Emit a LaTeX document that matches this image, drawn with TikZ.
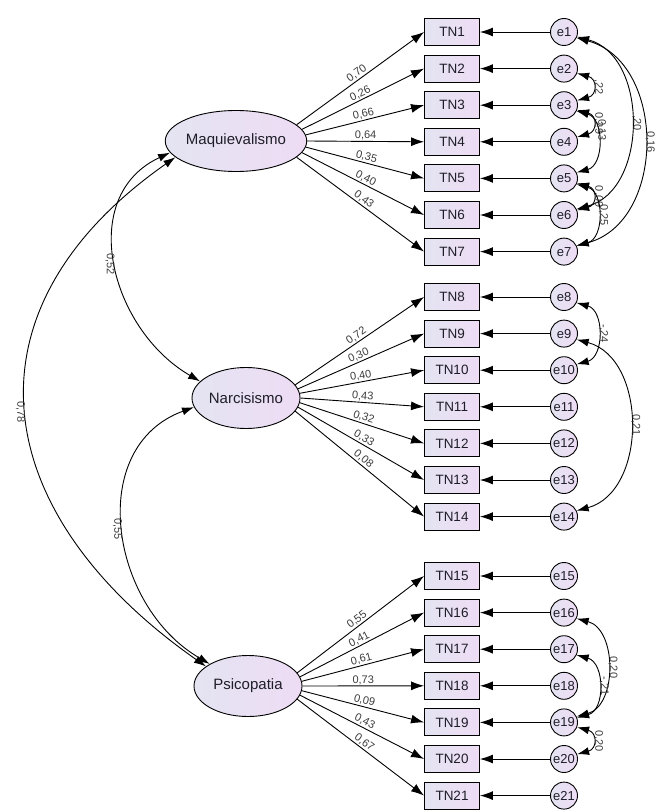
\documentclass[tikz,border=0pt]{standalone}
\usepackage{fontspec}
\setmainfont{Liberation Sans}
\usetikzlibrary{shapes.geometric,arrows.meta,positioning}
\definecolor{shadeL}{RGB}{228,228,242}
\definecolor{shadeR}{RGB}{238,220,244}
\definecolor{inkC}{RGB}{30,30,40}
\definecolor{lblC}{RGB}{60,60,60}
\begin{document}
\begin{tikzpicture}[x=1pt, y=-1pt, node distance=36.6pt, line width=0.9pt,
  fac/.style = {draw, ellipse, minimum width=108pt, minimum height=61pt, inner sep=0pt, left color=shadeL, right color=shadeR, text=inkC, font=\fontsize{15}{16}\selectfont},
  item/.style = {draw, rectangle, minimum width=55pt, minimum height=27pt, inner sep=0pt, left color=shadeL, right color=shadeR, text=inkC, font=\fontsize{13.5}{14}\selectfont},
  err/.style = {draw, circle, minimum size=27pt, inner sep=0pt, left color=shadeL, right color=shadeR, text=inkC, font=\fontsize{13}{14}\selectfont},
  load/.style = {-{Latex[length=13pt,width=9pt]}},
  cov/.style = {{Latex[length=12pt,width=8pt]}-{Latex[length=12pt,width=8pt]}},
  lbl/.style = {text=lblC, font=\fontsize{11}{11}\selectfont, inner sep=1pt},
  vlbl/.style = {lbl, rotate=-90, anchor=south},
  rarc/.style = {out=-15, in=15, looseness=#1}, rarc/.default=1]
\useasboundingbox (0,0) rectangle (658,810);
% latent factors
\node[fac] (maq) at (236,141) {Maquievalismo};
\node[fac] (nar) at (246,398) {Narcisismo};
\node[fac] (psi) at (248,686) {Psicopatia};
% items
\node[item] (tn1) at (452,32) {TN1};
\node[item] (tn2) [below of=tn1] {TN2};
\node[item] (tn3) [below of=tn2] {TN3};
\node[item] (tn4) [below of=tn3] {TN4};
\node[item] (tn5) [below of=tn4] {TN5};
\node[item] (tn6) [below of=tn5] {TN6};
\node[item] (tn7) [below of=tn6] {TN7};
\node[item] (tn8) at (452,297) {TN8};
\node[item] (tn9) [below of=tn8] {TN9};
\node[item] (tn10) [below of=tn9] {TN10};
\node[item] (tn11) [below of=tn10] {TN11};
\node[item] (tn12) [below of=tn11] {TN12};
\node[item] (tn13) [below of=tn12] {TN13};
\node[item] (tn14) [below of=tn13] {TN14};
\node[item] (tn15) at (452,576) {TN15};
\node[item] (tn16) [below of=tn15] {TN16};
\node[item] (tn17) [below of=tn16] {TN17};
\node[item] (tn18) [below of=tn17] {TN18};
\node[item] (tn19) [below of=tn18] {TN19};
\node[item] (tn20) [below of=tn19] {TN20};
\node[item] (tn21) [below of=tn20] {TN21};
% errors
\node[err] (e1) at (564,32) {e1};
\node[err] (e2) [below of=e1] {e2};
\node[err] (e3) [below of=e2] {e3};
\node[err] (e4) [below of=e3] {e4};
\node[err] (e5) [below of=e4] {e5};
\node[err] (e6) [below of=e5] {e6};
\node[err] (e7) [below of=e6] {e7};
\node[err] (e8) at (564,297) {e8};
\node[err] (e9) [below of=e8] {e9};
\node[err] (e10) [below of=e9] {e10};
\node[err] (e11) [below of=e10] {e11};
\node[err] (e12) [below of=e11] {e12};
\node[err] (e13) [below of=e12] {e13};
\node[err] (e14) [below of=e13] {e14};
\node[err] (e15) at (564,576) {e15};
\node[err] (e16) [below of=e15] {e16};
\node[err] (e17) [below of=e16] {e17};
\node[err] (e18) [below of=e17] {e18};
\node[err] (e19) [below of=e18] {e19};
\node[err] (e20) [below of=e19] {e20};
\node[err] (e21) [below of=e20] {e21};
% loadings
\draw[load] (maq.15) -- (tn1.west) node[lbl, pos=0.5, above, sloped] {0,70};
\draw[load] (maq.10) -- (tn2.west) node[lbl, pos=0.5, above, sloped] {0,26};
\draw[load] (maq.5) -- (tn3.west) node[lbl, pos=0.5, above, sloped] {0,66};
\draw[load] (maq.0) -- (tn4.west) node[lbl, pos=0.5, above, sloped] {0,64};
\draw[load] (maq.-5) -- (tn5.west) node[lbl, pos=0.5, above, sloped] {0,35};
\draw[load] (maq.-10) -- (tn6.west) node[lbl, pos=0.5, above, sloped] {0,40};
\draw[load] (maq.-15) -- (tn7.west) node[lbl, pos=0.5, above, sloped] {0,43};
\draw[load] (nar.15) -- (tn8.west) node[lbl, pos=0.5, above, sloped] {0,72};
\draw[load] (nar.10) -- (tn9.west) node[lbl, pos=0.5, above, sloped] {0,30};
\draw[load] (nar.5) -- (tn10.west) node[lbl, pos=0.5, above, sloped] {0,40};
\draw[load] (nar.0) -- (tn11.west) node[lbl, pos=0.5, above, sloped] {0,43};
\draw[load] (nar.-5) -- (tn12.west) node[lbl, pos=0.5, above, sloped] {0,32};
\draw[load] (nar.-10) -- (tn13.west) node[lbl, pos=0.5, above, sloped] {0,33};
\draw[load] (nar.-15) -- (tn14.west) node[lbl, pos=0.5, above, sloped] {0,08};
\draw[load] (psi.15) -- (tn15.west) node[lbl, pos=0.5, above, sloped] {0,55};
\draw[load] (psi.10) -- (tn16.west) node[lbl, pos=0.5, above, sloped] {0,41};
\draw[load] (psi.5) -- (tn17.west) node[lbl, pos=0.5, above, sloped] {0,61};
\draw[load] (psi.0) -- (tn18.west) node[lbl, pos=0.5, above, sloped] {0,73};
\draw[load] (psi.-5) -- (tn19.west) node[lbl, pos=0.5, above, sloped] {0,09};
\draw[load] (psi.-10) -- (tn20.west) node[lbl, pos=0.5, above, sloped] {0,43};
\draw[load] (psi.-15) -- (tn21.west) node[lbl, pos=0.5, above, sloped] {0,67};
% error terms
\draw[load] (e1) -- (tn1);
\draw[load] (e2) -- (tn2);
\draw[load] (e3) -- (tn3);
\draw[load] (e4) -- (tn4);
\draw[load] (e5) -- (tn5);
\draw[load] (e6) -- (tn6);
\draw[load] (e7) -- (tn7);
\draw[load] (e8) -- (tn8);
\draw[load] (e9) -- (tn9);
\draw[load] (e10) -- (tn10);
\draw[load] (e11) -- (tn11);
\draw[load] (e12) -- (tn12);
\draw[load] (e13) -- (tn13);
\draw[load] (e14) -- (tn14);
\draw[load] (e15) -- (tn15);
\draw[load] (e16) -- (tn16);
\draw[load] (e17) -- (tn17);
\draw[load] (e18) -- (tn18);
\draw[load] (e19) -- (tn19);
\draw[load] (e20) -- (tn20);
\draw[load] (e21) -- (tn21);
% factor covariances
\draw[cov] (maq.190) to[out=205, in=150, looseness=1.15] node[vlbl, anchor=north] {0,52} (nar.160);
\draw[cov] (nar.190) to[out=200, in=150, looseness=1.15] node[vlbl, anchor=north] {0,55} (psi.150);
\draw[cov] (maq.195) to[out=215, in=145, looseness=1.34] node[vlbl, anchor=north] {0,78} (psi.155);
% error covariances
\draw[cov] (e1.-25) to[rarc=1.15] node[vlbl] {0,16} (e7.25);
\draw[cov] (e1.-20) to[rarc=1.1] node[vlbl] {,20} (e6.25);
\draw[cov] (e2.-20) to[rarc=2] node[vlbl] {,22} (e3.20);
\draw[cov] (e3.-20) to[rarc=2] node[vlbl] {0,29} (e4.20);
\draw[cov] (e3.-25) to[rarc=1.2] node[vlbl, pos=0.35] {0,13} (e5.25);
\draw[cov] (e5.-20) to[rarc=2] node[vlbl] {0,09} (e6.20);
\draw[cov] (e5.-25) to[rarc=1.2] node[vlbl] {0,25} (e7.25);
\draw[cov] (e8.-25) to[rarc=1.2] node[vlbl] {-,24} (e10.25);
\draw[cov] (e9.-25) to[rarc=1.1] node[vlbl] {0,21} (e14.25);
\draw[cov] (e16.-25) to[rarc=1.1] node[vlbl] {0,20} (e19.25);
\draw[cov] (e17.-25) to[rarc=1.2] node[vlbl] {-,21} (e19.20);
\draw[cov] (e19.-20) to[rarc=2] node[vlbl] {0,20} (e20.20);
\end{tikzpicture}
\end{document}
